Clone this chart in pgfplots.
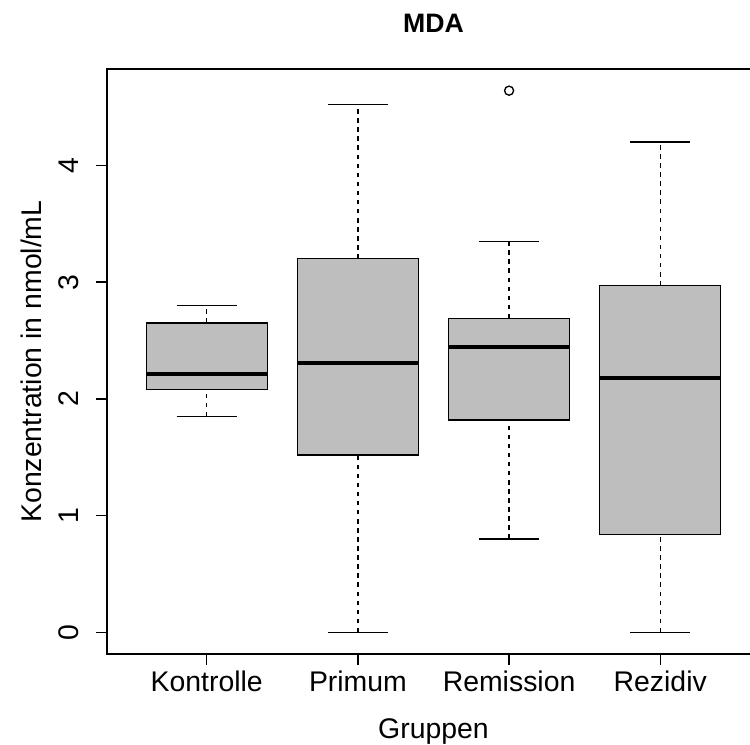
\documentclass[border=0pt]{standalone}
\usepackage{pgfplots}
\pgfplotsset{compat=1.18}
\usepgfplotslibrary{statistics}
\usepackage{fontspec}
\setmainfont{Liberation Sans}
\definecolor{boxgray}{HTML}{BEBEBE}

\begin{document}
\begin{tikzpicture}
\path[use as bounding box] (0pt,0pt) rectangle (562.5pt,558pt);
\clip (0pt,0pt) rectangle (562.5pt,558pt);
\begin{axis}[
  at={(80.25pt,67.5pt)}, anchor=south west,
  scale only axis, width=489.75pt, height=438.75pt,
  xmin=0.34, xmax=4.66, ymin=-0.1856, ymax=4.8256,
  font=\fontsize{21.3}{25}\selectfont,
  /pgf/number format/assume math mode=true,
  axis line style={line width=1pt},
  tick style={line width=1pt, black},
  tick align=outside, tick pos=left, major tick length=8.25pt,
  xtick={1,2,3,4},
  xticklabels={Kontrolle,Primum,Remission,Rezidiv},
  ytick={0,1,2,3,4},
  yticklabel style={xshift=-13pt, rotate=90, anchor=base},
  xticklabel style={yshift=-19.5pt, anchor=base},
  title={\fontsize{20}{24}\selectfont\bfseries MDA},
  every axis title/.style={at={(axis description cs:0.5,1.0632)}, anchor=base},
  xlabel={Gruppen},
  every axis x label/.style={at={(axis description cs:0.5,-0.1436)}, anchor=base},
  ylabel={Konzentration in nmol/mL},
  every axis y label/.style={at={(axis description cs:-0.1002,0.5)}, rotate=90, anchor=base},
  boxplot/draw direction=y,
  boxplot/box extend=0.8,
  boxplot/whisker extend=0.4,
  boxplot/every box/.style={fill=boxgray, draw=black, line width=1pt},
  boxplot/every median/.style={line width=3pt},
  boxplot/draw/lower whisker/.code={%
    \draw[line width=1pt, dash pattern=on 3.4pt off 3.4pt]
      (boxplot cs:\pgfplotsboxplotvalue{lower whisker}) --
      (boxplot cs:\pgfplotsboxplotvalue{lower quartile});
    \draw[line width=1pt, solid]
      (boxplot whisker cs:\pgfplotsboxplotvalue{lower whisker},0) --
      (boxplot whisker cs:\pgfplotsboxplotvalue{lower whisker},1);
  },
  boxplot/draw/upper whisker/.code={%
    \draw[line width=1pt, dash pattern=on 3.4pt off 3.4pt]
      (boxplot cs:\pgfplotsboxplotvalue{upper quartile}) --
      (boxplot cs:\pgfplotsboxplotvalue{upper whisker});
    \draw[line width=1pt, solid]
      (boxplot whisker cs:\pgfplotsboxplotvalue{upper whisker},0) --
      (boxplot whisker cs:\pgfplotsboxplotvalue{upper whisker},1);
  },
]
% Kontrolle
\addplot[black, line width=1pt, boxplot prepared={draw position=1,
  lower whisker=1.85, lower quartile=2.08, median=2.21,
  upper quartile=2.65, upper whisker=2.80}] coordinates {};
% Primum
\addplot[black, line width=1pt, boxplot prepared={draw position=2,
  lower whisker=0.00, lower quartile=1.52, median=2.31,
  upper quartile=3.20, upper whisker=4.52}] coordinates {};
% Remission (one outlier)
\addplot[black, line width=1pt, mark=o, mark size=3.4pt, mark options={solid, line width=1pt},
  boxplot prepared={draw position=3,
  lower whisker=0.80, lower quartile=1.82, median=2.44,
  upper quartile=2.69, upper whisker=3.35}] coordinates {(0,4.64)};
% Rezidiv
\addplot[black, line width=1pt, boxplot prepared={draw position=4,
  lower whisker=0.00, lower quartile=0.84, median=2.175,
  upper quartile=2.97, upper whisker=4.20}] coordinates {};
\end{axis}
\end{tikzpicture}
\end{document}
